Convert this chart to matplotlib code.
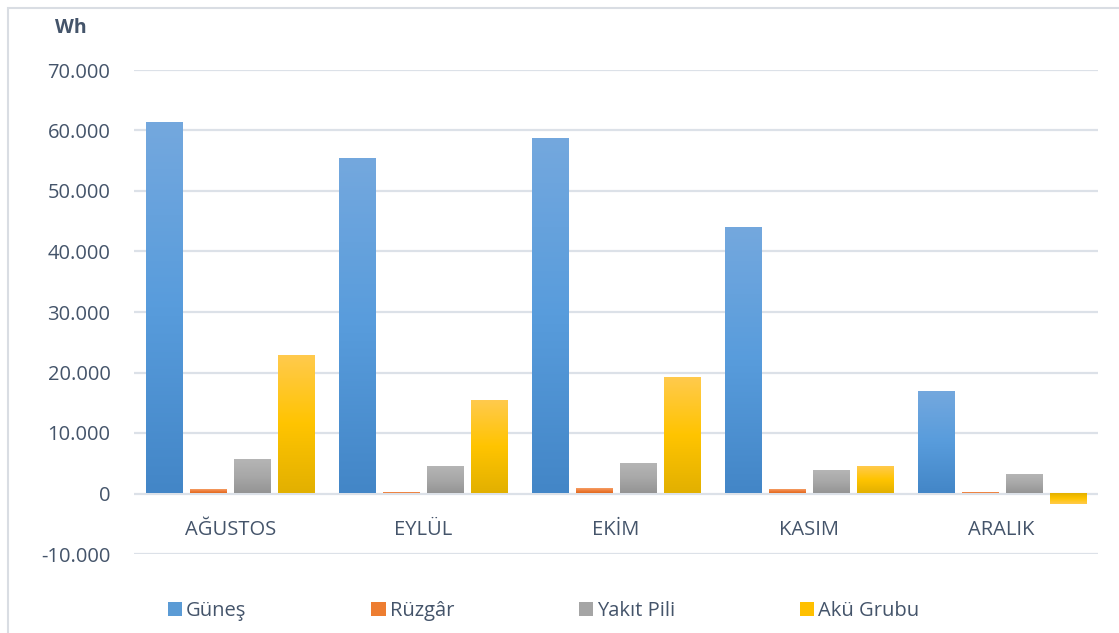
import numpy as np
import matplotlib
matplotlib.use("Agg")
import matplotlib.pyplot as plt
from matplotlib.patches import Rectangle, Patch
from matplotlib.colors import LinearSegmentedColormap
from matplotlib.ticker import FuncFormatter

months = ["AĞUSTOS", "EYLÜL", "EKİM", "KASIM", "ARALIK"]
series_names = ["Güneş", "Rüzgâr", "Yakıt Pili", "Akü Grubu"]
gunes = [61200, 55300, 58600, 43900, 16700]
ruzgar = [500, 100, 700, 650, 100]
yakit_pili = [5600, 4450, 4950, 3800, 3000]
aku_grubu = [22800, 15300, 19100, 4450, -1750]
yticks = [-10000, 0, 10000, 20000, 30000, 40000, 50000, 60000, 70000]

# gradient stops per series: (top, middle, bottom)
gradients = [
    ("#74A8DE", "#589CDC", "#4386C7"),
    ("#F4A068", "#F07E3A", "#E0681E"),
    ("#B5B5B5", "#A8A8A8", "#949494"),
    ("#FFCA4D", "#FFC400", "#E2B000"),
]
legend_colors = ["#5B9BD5", "#ED7D31", "#A5A5A5", "#FFC000"]
text_color = "#44546A"
grid_color = "#DCE1E8"

W, H, DPI = 1119, 633, 100
fig = plt.figure(figsize=(W / DPI, H / DPI), dpi=DPI)
fig.patch.set_facecolor("white")

ax_l, ax_r, ax_t, ax_b = 134, 1098, 70, 554
ax = fig.add_axes([ax_l / W, (H - ax_b) / H, (ax_r - ax_l) / W, (ax_b - ax_t) / H])
ax.set_xlim(0, len(months))
ax.set_ylim(-10000, 70000)

for s in ax.spines.values():
    s.set_visible(False)
ax.set_yticks(yticks)
ax.yaxis.set_major_formatter(FuncFormatter(lambda v, p: f"{int(v):,}".replace(",", ".")))
ax.tick_params(axis="y", length=0, pad=17, labelsize=14.5, labelcolor=text_color)
ax.set_xticks([])
for lab in ax.get_yticklabels():
    lab.set_fontfamily("Open Sans")
ax.grid(axis="y", color=grid_color, linewidth=1.6)
ax.set_axisbelow(True)

all_series = [gunes, ruzgar, yakit_pili, aku_grubu]
bar_w = 0.187
step = 0.228
x = np.arange(len(months)) + 0.5
for k, (vals, grad) in enumerate(zip(all_series, gradients)):
    offs = (k - 1.5) * step
    cmap = LinearSegmentedColormap.from_list(f"g{k}", [grad[2], grad[1], grad[0]])
    bars = ax.bar(x + offs, vals, width=bar_w, color="none", edgecolor="none", zorder=2)
    for b, v in zip(bars, vals):
        x0 = b.get_x()
        x1 = x0 + b.get_width()
        y0, y1 = (0, v) if v >= 0 else (v, 0)
        grad_img = np.linspace(0, 1, 256).reshape(-1, 1)
        if v < 0:
            grad_img = grad_img[::-1]
        ax.imshow(grad_img, extent=(x0, x1, y0, y1), origin="lower", aspect="auto",
                  cmap=cmap, zorder=3, interpolation="bicubic")
ax.set_xlim(0, len(months))
ax.set_ylim(-10000, 70000)

for xi, m in zip(x, months):
    ax.annotate(m, xy=(xi, 0), xytext=(0, -19), textcoords="offset points",
                ha="center", va="top", fontsize=14.5, color=text_color,
                family="Open Sans")

fig.text(55 / W, 1 - 28 / H, "Wh", fontsize=14, fontweight="bold",
         color=text_color, family="Open Sans", va="center", ha="left")

handles = [Patch(facecolor=c, edgecolor="none") for c in legend_colors]
leg = fig.legend(handles, series_names, loc="center left",
                 bbox_to_anchor=(160 / W, 1 - 611 / H), ncol=4, frameon=False,
                 prop={"family": "Open Sans", "size": 14.5},
                 handlelength=0.7, handleheight=0.7, handletextpad=0.2,
                 columnspacing=6.2, borderaxespad=0)
for t in leg.get_texts():
    t.set_color(text_color)

# chart frame
fig.patches.append(Rectangle((8 / W, -0.1), 1.2, (1 - 8 / H) + 0.1,
                             transform=fig.transFigure, fill=False,
                             edgecolor="#D9DDE3", linewidth=1.5, zorder=0))

fig.savefig("out.png", dpi=DPI, facecolor="white")
